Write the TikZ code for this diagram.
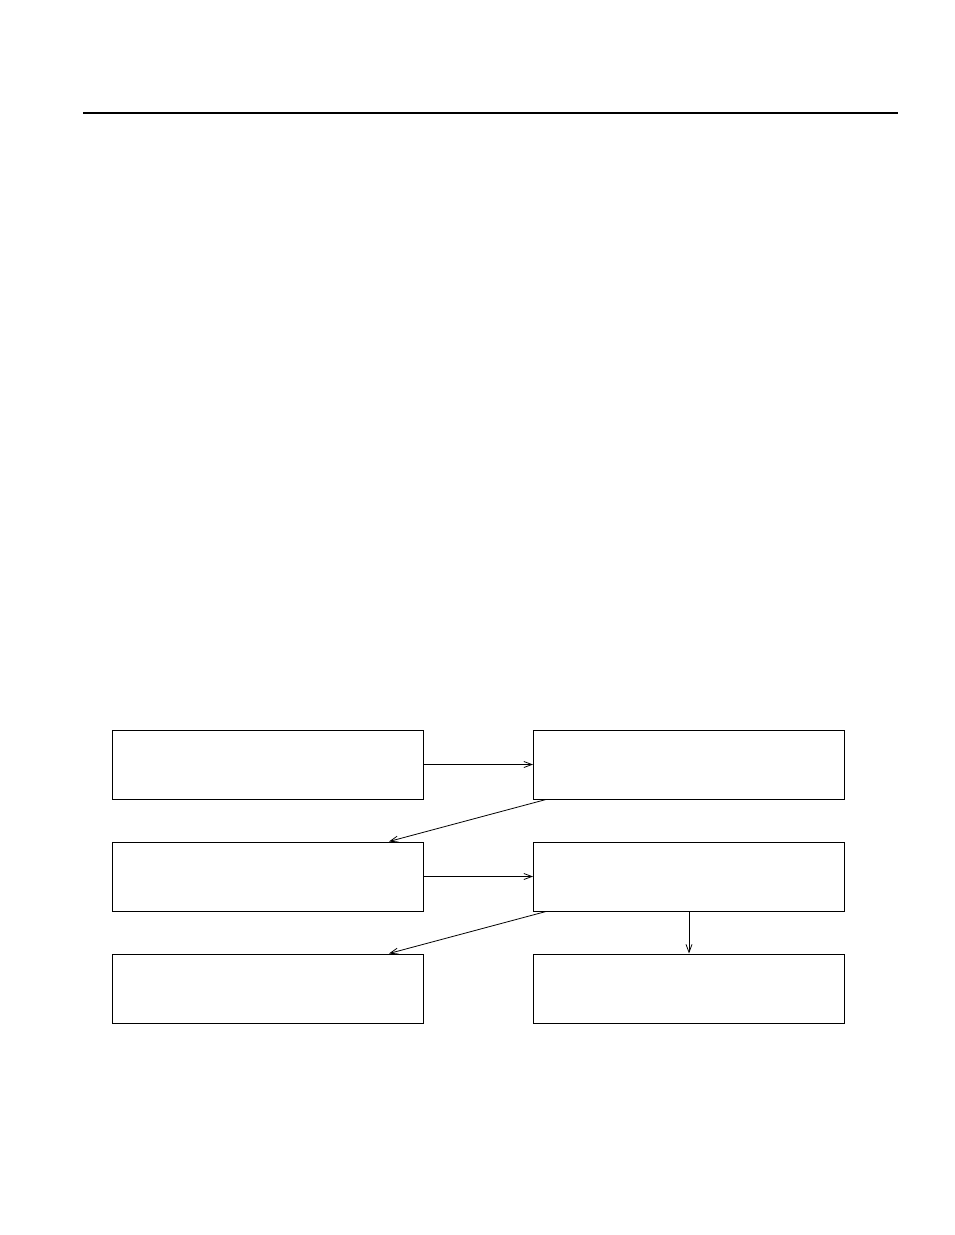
\documentclass[tikz,border=0pt]{standalone}
\usepackage{tikz}
\usetikzlibrary{arrows.meta}

\begin{document}
\begin{tikzpicture}[x=1pt, y=-1pt, >={Straight Barb[length=8pt,width=6pt]},
  blk/.style={draw, line width=1pt, minimum width=311pt, minimum height=69pt, inner sep=0pt},
  link/.style={->, line width=0.8pt}]
\useasboundingbox (0,0) rectangle (954,1235);
\draw[line width=2.2pt] (83,113) -- (898,113);

\node[blk] (blk1) at (268,764.5) {};
\node[blk] (blk2) at (689,764.5) {};
\node[blk] (blk3) at (268,876.5) {};
\node[blk] (blk4) at (689,876.5) {};
\node[blk] (blk5) at (268,988.5) {};
\node[blk] (blk6) at (689,988.5) {};

\draw[link] (blk1) -- (blk2);
\draw[link] ([xshift=13pt]blk2.south west) -- ([xshift=-35pt]blk3.north east);
\draw[link] (blk3) -- (blk4);
\draw[link] ([xshift=13pt]blk4.south west) -- ([xshift=-35pt]blk5.north east);
\draw[link] (blk4.south) -- (blk6.north);
\end{tikzpicture}
\end{document}
